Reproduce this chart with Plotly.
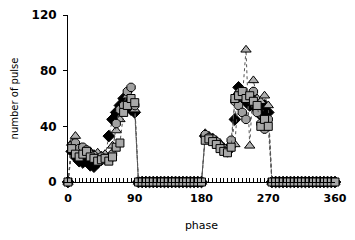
import plotly.graph_objects as go

phase = list(range(0, 365, 5))

# nonzero segments: phases 5..90 and 185..270 ; zeros elsewhere
left_phases = list(range(5, 95, 5))
right_phases = list(range(185, 275, 5))

diam_left = [22, 18, 15, 14, 16, 12, 11, 14, 16, 18, 33, 45, 50, 55, 60, 57, 52, 50]
tri_left = [28, 33, 25, 22, 20, 22, 20, 21, 19, 20, 18, 26, 37, 45, 55, 62, 58, 52]
sq_left = [24, 20, 18, 20, 22, 18, 17, 15, 16, 17, 15, 18, 25, 28, 50, 55, 60, 57]
circ_left = [26, 28, 24, 25, 23, 20, 19, 17, 18, 17, 16, 20, 42, 52, 55, 65, 68, 55]

diam_right = [33, 32, 30, 28, 25, 23, 22, 26, 45, 68, 60, 58, 55, 60, 52, 48, 55, 50]
tri_right = [35, 33, 32, 30, 28, 25, 24, 28, 27, 65, 60, 95, 26, 73, 60, 58, 62, 55]
sq_right = [30, 31, 29, 27, 24, 22, 21, 25, 60, 62, 65, 60, 62, 58, 55, 40, 45, 40]
circ_right = [34, 32, 31, 29, 26, 24, 23, 30, 58, 55, 50, 45, 60, 65, 50, 42, 38, 45]


def build(left, right):
    vals = {p: 0 for p in phase}
    for p, v in zip(left_phases, left):
        vals[p] = v
    for p, v in zip(right_phases, right):
        vals[p] = v
    return [vals[p] for p in phase]


series = [
    ("diamonds", build(diam_left, diam_right), "diamond", "#000000", 9),
    ("triangles", build(tri_left, tri_right), "triangle-up", "#b0b0b0", 9),
    ("circles", build(circ_left, circ_right), "octagon", "#a0a0a0", 9),
    ("squares", build(sq_left, sq_right), "square", "#a8a8a8", 8),
]

fig = go.Figure()
for name, ys, sym, col, size in series:
    fig.add_trace(go.Scatter(
        x=phase, y=ys, mode="lines+markers", name=name,
        line=dict(color="#555555", width=1, dash="dot"),
        marker=dict(symbol=sym, size=size, color=col,
                    line=dict(color="#000000", width=1)),
        cliponaxis=False,
    ))

fig.update_layout(
    width=339, height=224,
    margin=dict(l=60, r=12, t=7, b=50),
    paper_bgcolor="white", plot_bgcolor="white",
    showlegend=False,
    font=dict(family="DejaVu Sans", color="#000000"),
)
fig.update_xaxes(
    range=[0, 360], tickvals=[0, 90, 180, 270, 360],
    automargin=False, ticklabeloverflow="allow",
    showline=True, linecolor="#000000", linewidth=1,
    ticks="inside", ticklen=4, tickcolor="#000000",
    minor=dict(dtick=5, tick0=0, ticks="inside", ticklen=4, tickcolor="#000000"),
    showgrid=False, zeroline=False,
    ticklabelstandoff=6,
    tickfont=dict(size=11, weight="bold"),
    title=dict(text="phase", font=dict(size=11), standoff=21),
)
fig.update_yaxes(
    range=[0, 120], tickvals=[0, 40, 80, 120],
    automargin=False, ticklabeloverflow="allow",
    showline=True, linecolor="#000000", linewidth=1,
    ticks="outside", ticklen=4, tickcolor="#000000",
    showgrid=False, zeroline=False,
    ticklabelstandoff=4,
    tickfont=dict(size=12, weight="bold"),
    title=dict(text="number of pulse", font=dict(size=10), standoff=11),
)

fig.write_html("out.html")
